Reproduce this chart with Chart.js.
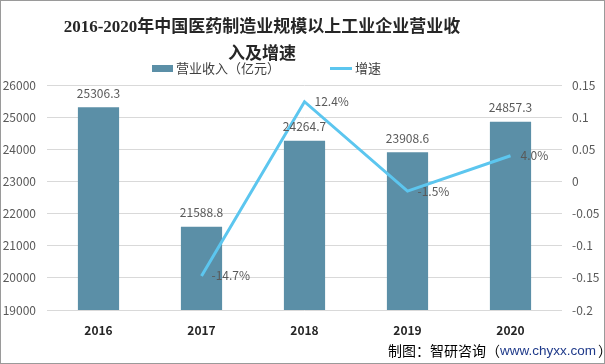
<!DOCTYPE html>
<html>
<head>
<meta charset="utf-8">
<script src="https://cdn.jsdelivr.net/npm/chart.js@4"></script>
<style>
html,body{margin:0;padding:0;background:#fff;}
#wrap{position:relative;width:605px;height:364px;}
</style>
</head>
<body>
<div id="wrap"><canvas id="c" width="605" height="364"></canvas></div>
<script>
const categories = ['2016', '2017', '2018', '2019', '2020'];
const revenue = [25306.3, 21588.8, 24264.7, 23908.6, 24857.3];
const growth = [null, -0.147, 0.124, -0.015, 0.040];
const growthLabels = ['', '-14.7%', '12.4%', '-1.5%', '4.0%'];
const titleLines = ['2016-2020年中国医药制造业规模以上工业企业营业收', '入及增速'];
const seriesNames = ['营业收入（亿元）', '增速'];
const leftTicks = {min: 19000, max: 26000, step: 1000};
const rightTicks = {min: -0.2, max: 0.15, step: 0.05};

const BAR_COLOR = '#5B8FA7';
const LINE_COLOR = '#5CC6EF';
const LABEL_COLOR = '#595959';
const CJK = '"Noto Sans CJK SC", sans-serif';

const decor = {
  id: 'decor',
  beforeDraw(chart) {
    const ctx = chart.ctx;
    ctx.save();
    ctx.fillStyle = '#fff';
    ctx.fillRect(0, 0, chart.width, chart.height);
    ctx.restore();
  },
  afterDatasetsDraw(chart) {
    const ctx = chart.ctx;
    ctx.save();
    const barMeta = chart.getDatasetMeta(0);
    ctx.font = '12px ' + CJK;
    ctx.fillStyle = LABEL_COLOR;
    ctx.textAlign = 'center';
    ctx.textBaseline = 'middle';
    barMeta.data.forEach((el, i) => {
      ctx.fillText(revenue[i].toFixed(1), el.x, el.y - 14);
    });
    const lineMeta = chart.getDatasetMeta(1);
    ctx.textAlign = 'left';
    lineMeta.data.forEach((el, i) => {
      if (growth[i] === null) return;
      ctx.fillText(growthLabels[i], el.x + 10, el.y);
    });
    ctx.restore();
  },
  afterDraw(chart) {
    const ctx = chart.ctx;
    ctx.save();
    ctx.fillStyle = '#262626';
    ctx.textAlign = 'center';
    ctx.textBaseline = 'middle';
    ctx.font = 'bold 17px "Liberation Serif", "Noto Sans CJK SC", serif';
    ctx.fillText(titleLines[0], 262, 28);
    ctx.fillText(titleLines[1], 262, 55);
    ctx.fillStyle = BAR_COLOR;
    ctx.fillRect(152, 65, 21, 7);
    ctx.strokeStyle = LINE_COLOR;
    ctx.lineWidth = 3;
    ctx.beginPath();
    ctx.moveTo(330, 68.5);
    ctx.lineTo(352, 68.5);
    ctx.stroke();
    ctx.fillStyle = '#404040';
    ctx.textAlign = 'left';
    ctx.font = '13px ' + CJK;
    ctx.fillText(seriesNames[0], 176, 68);
    ctx.fillText(seriesNames[1], 355, 68);
    ctx.font = '14px ' + CJK;
    ctx.textAlign = 'left';
    ctx.fillStyle = '#000';
    const p1 = '制图：智研咨询（';
    const p2 = 'www.chyxx.com';
    const p3 = '）';
    let x = 388;
    ctx.fillText(p1, x, 351);
    x += ctx.measureText(p1).width;
    ctx.fillStyle = '#1F3A8A';
    ctx.font = '13.5px "Liberation Sans", sans-serif';
    ctx.fillText(p2, x, 351);
    x += ctx.measureText(p2).width + 2;
    ctx.fillStyle = '#000';
    ctx.font = '14px ' + CJK;
    ctx.fillText(p3, x, 351);
    ctx.strokeStyle = '#9a9a9a';
    ctx.lineWidth = 1;
    ctx.strokeRect(0.5, 0.5, chart.width - 1, chart.height - 1);
    ctx.restore();
  }
};

const fmt = v => String(Math.round(v * 100) / 100);

new Chart(document.getElementById('c'), {
  data: {
    labels: categories,
    datasets: [
      {
        type: 'bar',
        label: seriesNames[0],
        data: revenue,
        backgroundColor: BAR_COLOR,
        yAxisID: 'y',
        categoryPercentage: 0.8,
        barPercentage: 0.5,
        order: 2
      },
      {
        type: 'line',
        label: seriesNames[1],
        data: growth,
        borderColor: LINE_COLOR,
        backgroundColor: LINE_COLOR,
        borderWidth: 3,
        pointRadius: 0,
        tension: 0,
        yAxisID: 'y1',
        order: 1
      }
    ]
  },
  options: {
    responsive: false,
    animation: false,
    devicePixelRatio: 1,
    layout: {padding: {top: 85, left: 0, right: 0, bottom: 0}},
    plugins: {
      legend: {display: false},
      title: {display: false},
      tooltip: {enabled: false}
    },
    scales: {
      x: {
        grid: {display: false, drawTicks: false},
        border: {display: false},
        ticks: {color: '#262626', padding: 13, font: {size: 12, weight: 'bold', family: CJK}},
        afterFit(s) { s.height = 54; }
      },
      y: {
        position: 'left',
        min: leftTicks.min, max: leftTicks.max,
        ticks: {stepSize: leftTicks.step, color: LABEL_COLOR, padding: 11, font: {size: 12, family: CJK}, callback: v => String(v)},
        grid: {color: '#d9d9d9', drawTicks: false},
        border: {display: false},
        afterFit(s) { s.width = 47; }
      },
      y1: {
        position: 'right',
        min: rightTicks.min, max: rightTicks.max,
        ticks: {stepSize: rightTicks.step, color: LABEL_COLOR, padding: 10, font: {size: 12, family: CJK}, callback: fmt},
        grid: {display: false, drawTicks: false},
        border: {display: false},
        afterFit(s) { s.width = 43; }
      }
    }
  },
  plugins: [decor]
});
</script>
</body>
</html>
